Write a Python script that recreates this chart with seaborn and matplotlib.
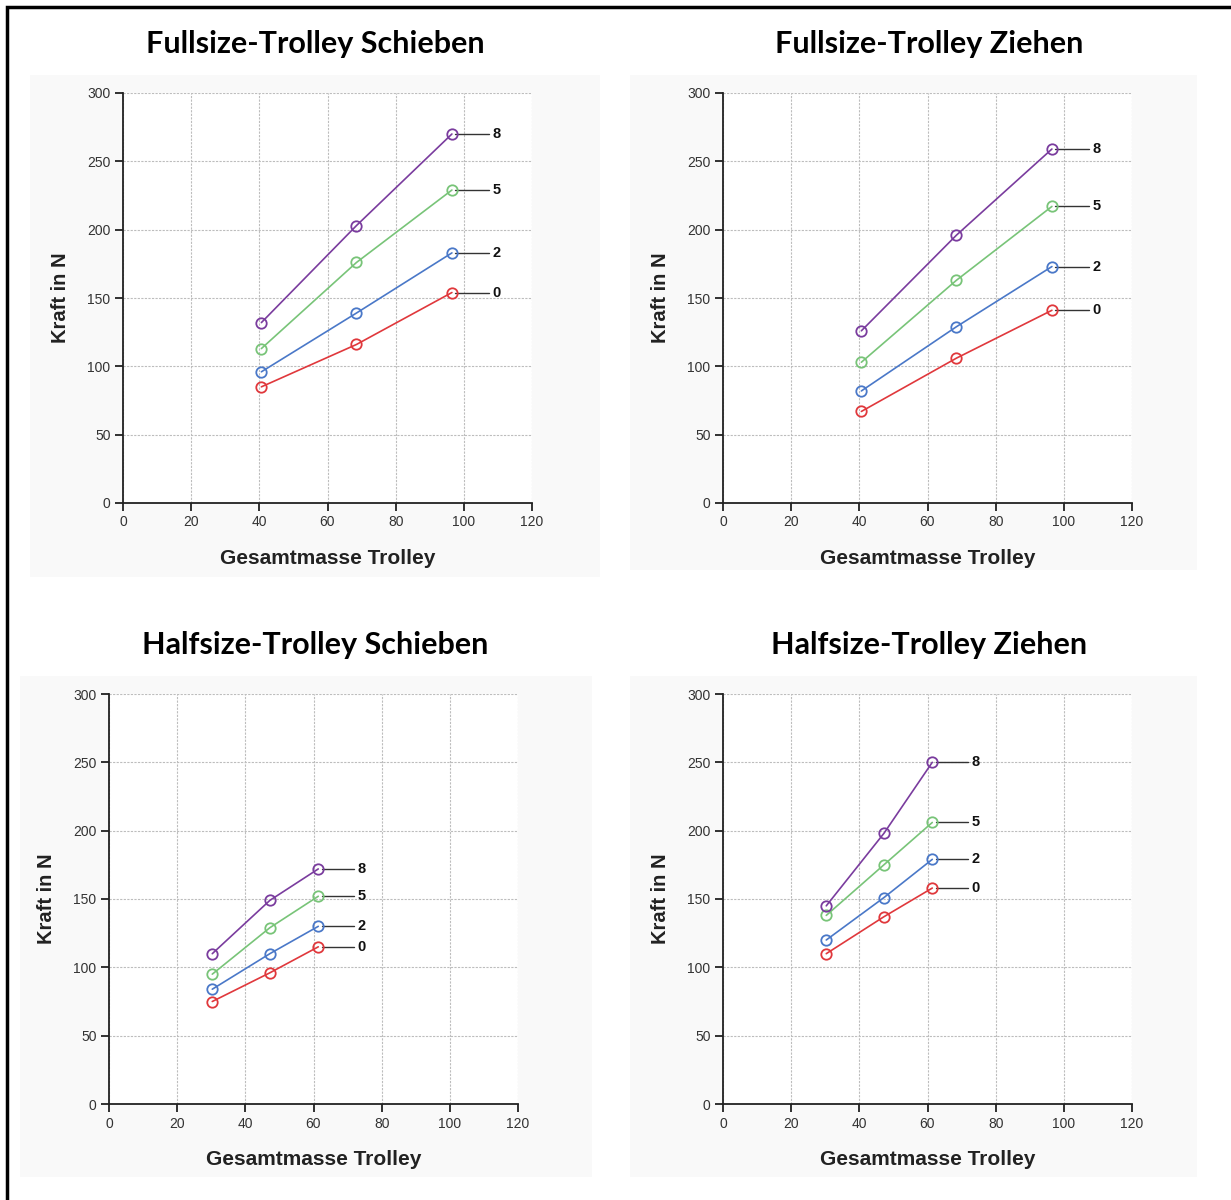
import numpy as np
import pandas as pd
import matplotlib
matplotlib.use("Agg")
import matplotlib.pyplot as plt
from matplotlib.patches import Rectangle
import seaborn as sns

# ----------- Data -----------
series = ["0", "2", "5", "8"]

full_mass = [40.6, 68.5, 96.5]
half_mass = [30.3, 47.2, 61.4]

full_push = {
    "0": [85, 116, 154],
    "2": [96, 139, 183],
    "5": [113, 176, 229],
    "8": [132, 203, 270],
}
full_pull = {
    "0": [67, 106, 141],
    "2": [82, 129, 173],
    "5": [103, 163, 217],
    "8": [126, 196, 259],
}
half_push = {
    "0": [75, 96, 115],
    "2": [84, 110, 130],
    "5": [95, 129, 152],
    "8": [110, 149, 172],
}
half_pull = {
    "0": [110, 137, 158],
    "2": [120, 151, 179],
    "5": [138, 175, 206],
    "8": [145, 198, 250],
}

titles = ["Fullsize-Trolley Schieben", "Fullsize-Trolley Ziehen",
          "Halfsize-Trolley Schieben", "Halfsize-Trolley Ziehen"]
panels = [(full_mass, full_push), (full_mass, full_pull),
          (half_mass, half_push), (half_mass, half_pull)]
label_x = [109.5, 109.5, 74.0, 74.0]

colors = {"0": "#e0383c", "2": "#4a78c8", "5": "#78c478", "8": "#7a3c9e"}

# ----------- Style -----------
sns.set_theme(style="white")
plt.rcParams["font.family"] = ["Liberation Sans", "DejaVu Sans"]

fig = plt.figure(figsize=(12.31, 12.0), dpi=100)
fig.patch.set_facecolor("white")

# outer frame (only left/top edge visible in the page)
fig.patches.append(Rectangle((7 / 1231, -0.01), 1.05, 1 - 7 / 1200 + 0.01,
                             transform=fig.transFigure, fill=False,
                             edgecolor="black", linewidth=2.5, zorder=-5))

# faint grey panel backgrounds (px: x0, y0, x1, y1)
bg_boxes = [(30, 75, 600, 577), (630, 75, 1197, 570),
            (20, 676, 592, 1177), (630, 676, 1197, 1177)]
for x0, y0, x1, y1 in bg_boxes:
    fig.patches.append(Rectangle((x0 / 1231, 1 - y1 / 1200), (x1 - x0) / 1231,
                                 (y1 - y0) / 1200, transform=fig.transFigure,
                                 facecolor="#f9f9f9", edgecolor="none", zorder=-10))

# axes positions in pixels: left, top
ax_pos = [(123, 93), (723, 93), (109, 694), (723, 694)]
title_pos = [(315, 44), (929, 44), (315, 645), (929, 645)]
ax_w, ax_h = 409, 410

for i, ((mass, forces), title) in enumerate(zip(panels, titles)):
    left, top = ax_pos[i]
    ax = fig.add_axes([left / 1231, 1 - (top + ax_h) / 1200, ax_w / 1231, ax_h / 1200])
    ax.set_facecolor("white")
    ax.set_zorder(1)

    df = pd.DataFrame({
        "Gesamtmasse": np.tile(mass, len(series)),
        "Kraft": np.concatenate([forces[s] for s in series]),
        "Serie": np.repeat(series, len(mass)),
    })
    sns.lineplot(data=df, x="Gesamtmasse", y="Kraft", hue="Serie",
                 palette=colors, marker="o", markersize=7.5,
                 linewidth=1.2, legend=False, ax=ax, zorder=3)
    # open circles in the line colour
    for ln in ax.lines:
        ln.set_markerfacecolor("none")
        ln.set_markeredgecolor(ln.get_color())
        ln.set_markeredgewidth(1.3)

    # leader lines and end labels
    for s in series:
        y_end = forces[s][-1]
        ax.plot([mass[-1] + 1.0, label_x[i] - 2.0], [y_end, y_end],
                color="#333333", linewidth=1.0, zorder=2)
        ax.text(label_x[i], y_end, s, fontsize=10.5, fontweight="bold",
                ha="center", va="center", color="#111111")

    ax.set_xlim(0, 120)
    ax.set_ylim(0, 300)
    ax.set_xticks(np.arange(0, 121, 20))
    ax.set_yticks(np.arange(0, 301, 50))
    ax.grid(True, color="#bdbdbd", linestyle=(0, (2, 1.2)), linewidth=0.8)
    ax.set_axisbelow(True)
    for side in ["top", "right"]:
        ax.spines[side].set_visible(False)
    for side in ["left", "bottom"]:
        ax.spines[side].set_color("#222222")
        ax.spines[side].set_linewidth(1.3)
    ax.tick_params(axis="both", which="major", direction="out", length=6,
                   width=1.3, color="#222222", labelsize=10,
                   labelcolor="#333333", pad=3, left=True, bottom=True)

    ax.set_xlabel("Gesamtmasse Trolley", fontsize=15, fontweight="bold",
                  color="#222222")
    ax.set_ylabel("Kraft in N", fontsize=14.5, fontweight="bold", color="#222222")
    ax.xaxis.set_label_coords(0.5, -46 / ax_h)
    ax.yaxis.set_label_coords(-53 / ax_w, 0.5)

    tx, ty = title_pos[i]
    fig.text(tx / 1231, 1 - ty / 1200, title, fontsize=22, fontweight="bold",
             ha="center", va="center", family=["Lato", "DejaVu Sans"],
             color="black")

fig.savefig("out.png", dpi=100)
